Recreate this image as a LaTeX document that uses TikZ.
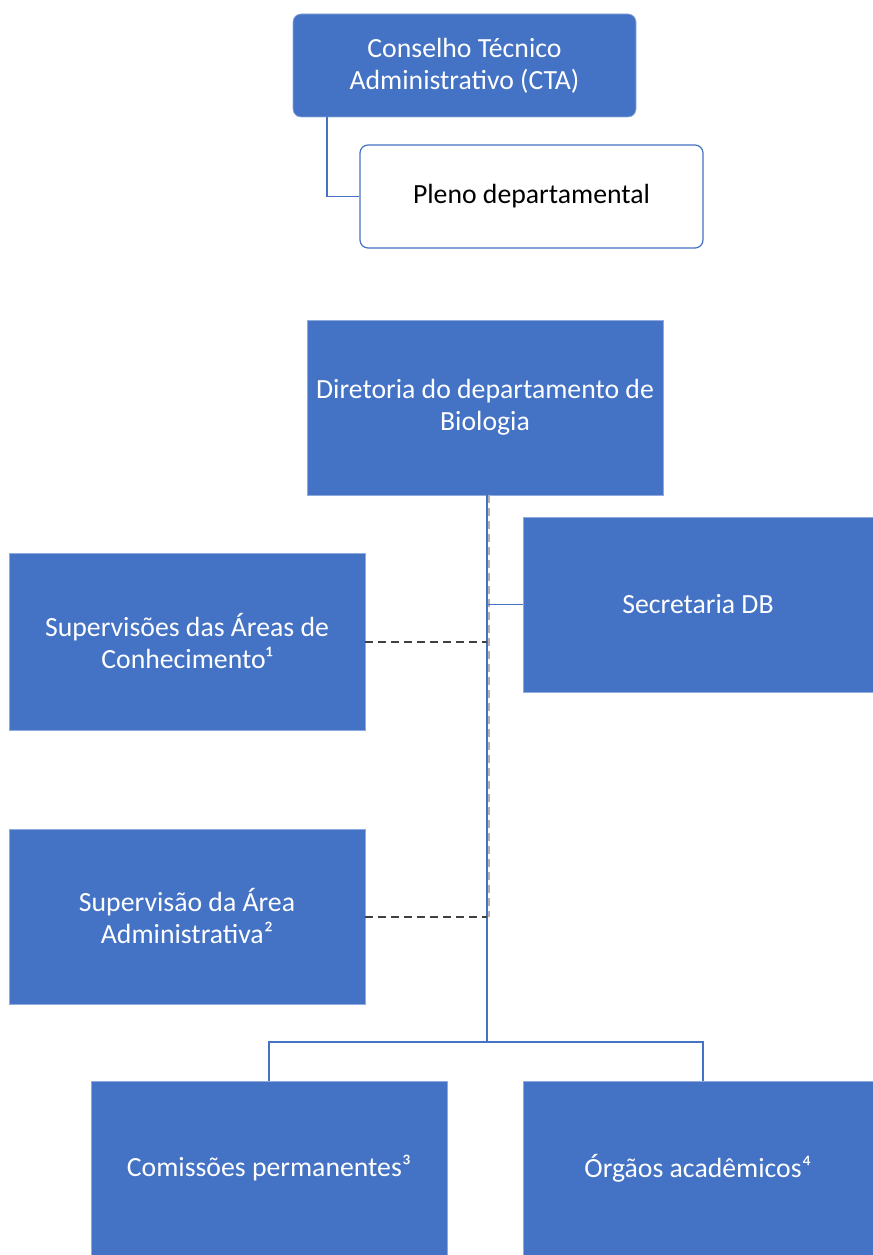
\documentclass[tikz,border=0pt]{standalone}
\usepackage{fontspec}
\setmainfont{Carlito}
\definecolor{obl}{HTML}{4472C4}
\definecolor{dgray}{HTML}{404040}
\begin{document}
\begin{tikzpicture}[x=0.75pt,y=-0.75pt,
  bluebox/.style={draw=obl!60!white,line width=0.5pt,fill=obl,text=white,inner sep=2pt,align=center,
    font=\fontsize{20.8}{24}\selectfont},
  rbox/.style={bluebox,rounded corners=6pt},
  wbox/.style={draw=obl,line width=0.9pt,fill=white,text=black,rounded corners=6pt,inner sep=2pt,align=center,
    font=\fontsize{20.8}{24}\selectfont},
  conn/.style={draw=obl,line width=1.1pt},
  dconn/.style={draw=dgray,line width=1.5pt,dash pattern=on 6pt off 3.75pt},
  gconn/.style={draw=gray!60,line width=1.1pt,dash pattern=on 6pt off 3.75pt}]
\useasboundingbox (0,0) rectangle (873,1255);
\node[rbox,minimum width=257.25pt,minimum height=77.25pt] (cta) at (464.5,65.5) {Conselho Técnico\\Administrativo (CTA)};
\node[wbox,minimum width=257.25pt,minimum height=77.25pt] (pleno) at (531.5,196.5) {Pleno departamental};
\node[bluebox,minimum width=267pt,minimum height=131.25pt] (dir) at (485,407.5) {Diretoria do departamento de\\Biologia};
\node[bluebox,minimum width=262.5pt,minimum height=131.25pt] (sec) at (698,604.5) {Secretaria DB};
\node[bluebox,minimum width=267pt,minimum height=132.75pt] (sup1) at (187,641.5) {Supervisões das Áreas de\\Conhecimento¹};
\node[bluebox,minimum width=267pt,minimum height=131.25pt] (sup2) at (187,916.5) {Supervisão da Área\\Administrativa²};
\node[bluebox,minimum width=267pt,minimum height=130.5pt] (com) at (269,1168) {Comissões permanentes³};
\node[bluebox,minimum width=262.5pt,minimum height=130.5pt] (org) at (698,1168) {Órgãos acadêmicos⁴};
\coordinate (ctadrop) at (327,0);
\coordinate (spine) at (487,1042);
\coordinate (gspine) at (489,916.5);
\coordinate (orgdrop) at (703,0);
% CTA to Pleno
\draw[conn] (cta.south -| ctadrop) |- (pleno.west);
% grey dashed background line
\draw[gconn] (dir.south -| gspine) -- (gspine);
% main spine
\draw[conn] (dir.south -| spine) -- (spine);
\draw[conn] (sec.west -| spine) -- (sec.west);
\draw[dconn] (sup1.east) -- (sup1.east -| spine);
\draw[dconn] (sup2.east) -- (sup2.east -| spine);
\draw[conn] (com.north) |- (spine) -| (org.north -| orgdrop);
\end{tikzpicture}
\end{document}
